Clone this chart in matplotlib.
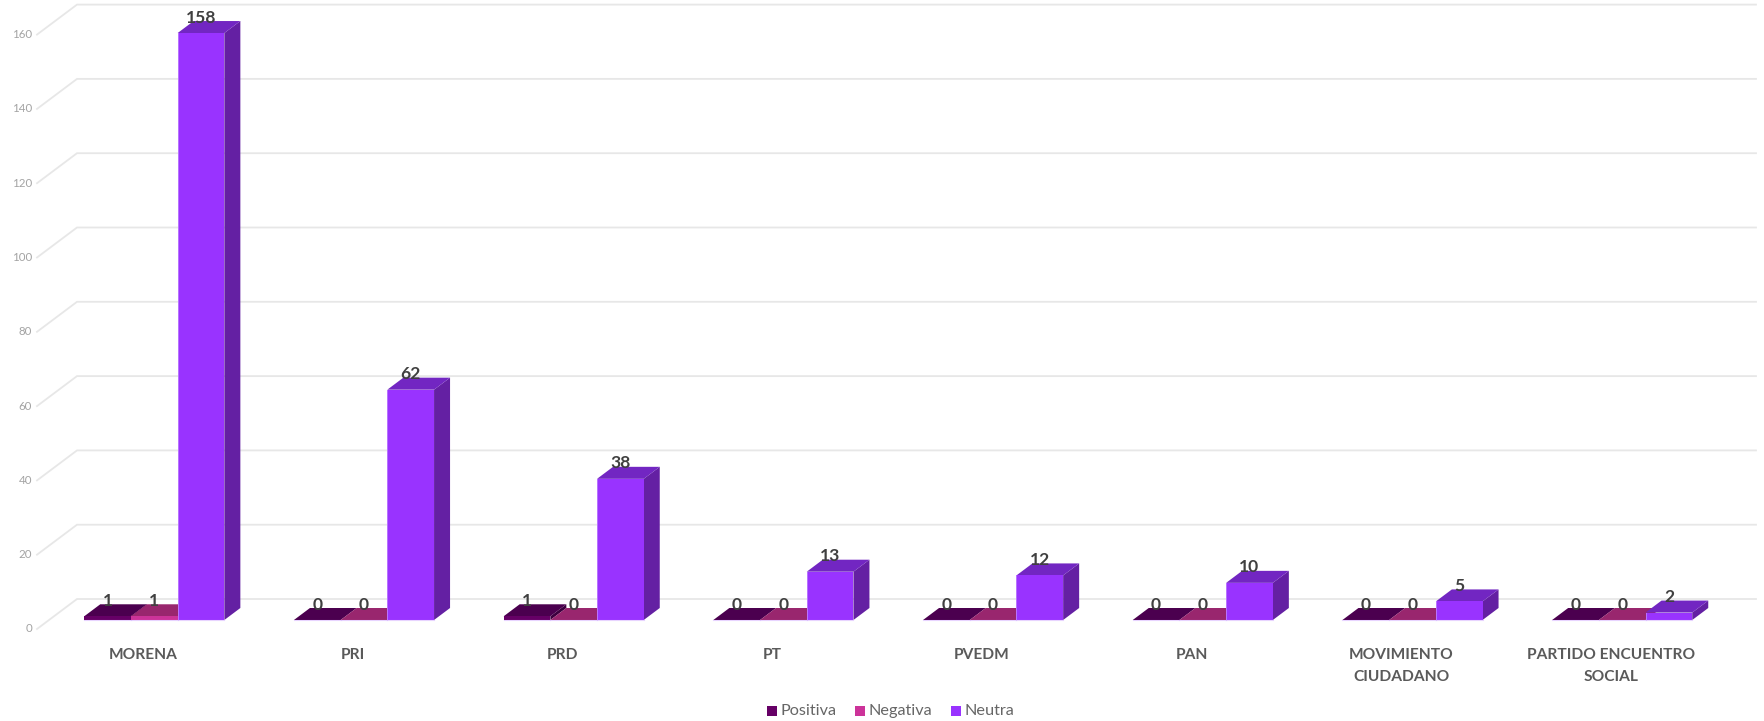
import matplotlib
matplotlib.use("Agg")
import matplotlib.pyplot as plt
from matplotlib.patches import Polygon

categories = ["MORENA", "PRI", "PRD", "PT", "PVEDM", "PAN", "MOVIMIENTO\nCIUDADANO", "PARTIDO ENCUENTRO\nSOCIAL"]
series_names = ["Positiva", "Negativa", "Neutra"]
positiva = [1, 0, 1, 0, 0, 0, 0, 0]
negativa = [1, 0, 0, 0, 0, 0, 0, 0]
neutra = [158, 62, 38, 13, 12, 10, 5, 2]
y_ticks = [0, 20, 40, 60, 80, 100, 120, 140, 160]

front_cols = ["#660066", "#cc3399", "#9933ff"]
top_cols = ["#4b004f", "#99266e", "#7226c2"]
side_cols = ["#3c003f", "#7d1f5a", "#6420a3"]
edge_col = "#d9b8ff"

W, H = 1765, 721
PX = 209.7
PY = 3.715
fig = plt.figure(figsize=(W / 100, H / 100), dpi=100, facecolor="white")
ax = fig.add_axes([0, 0, 1, 1])
ax.set_xlim(-154.3 / PX, (W - 154.3) / PX)
ax.set_ylim(-(H - 620) / PY, 620 / PY)
ax.axis("off")
plt.rcParams["font.family"] = ["Lato", "DejaVu Sans"]

dx, dy = 16 / PX, 12 / PY          # bar depth
wall_x0, wall_x1 = 37, 77          # left wall front/back
grid_end = 1756
wall_drop, wall_rise = 9 / PY, 21 / PY
def xpx(p):
    return (p - 154.3) / PX

for t in y_ticks:
    yb = t + wall_rise
    ax.plot([xpx(wall_x0), xpx(wall_x1), xpx(grid_end)], [t - wall_drop, yb, yb],
            color="#e7e7e7", lw=1.3, zorder=1, solid_joinstyle="miter")
    ax.text(xpx(wall_x0 - 5), t - wall_drop, str(t), ha="right", va="center",
            fontsize=8.3, color="#a3a3a3", zorder=2)

bw = 46.7 / PX
series = [positiva, negativa, neutra]
for i, cat in enumerate(categories):
    for s, vals in enumerate(series):
        v = vals[i]
        xc = i + (s - 1) * bw
        x0, x1 = xc - bw / 2, xc + bw / 2
        z = 3 + s
        ax.add_patch(Polygon([(x1, 0), (x1 + dx, dy), (x1 + dx, v + dy), (x1, v)],
                             closed=True, fc=side_cols[s], ec="none", zorder=z))
        ax.add_patch(Polygon([(x0, v), (x0 + dx, v + dy), (x1 + dx, v + dy), (x1, v)],
                             closed=True, fc=top_cols[s], ec="none", zorder=z))
        ax.bar(xc, v, width=bw, bottom=0, color=front_cols[s], linewidth=0, zorder=z + 0.2)
        ax.plot([x0, x1], [0, 0], color=edge_col, lw=0.8, alpha=0.6, zorder=z + 0.3)
        if v > 1:
            ax.plot([x0, x0], [0, v], color=edge_col, lw=0.7, alpha=0.5, zorder=z + 0.3)
    for s, vals in enumerate(series):
        v = vals[i]
        xc = i + (s - 1) * bw
        ax.text(xc, v + 15.5 / PY, str(v), ha="center", va="center", fontsize=12.6,
                fontweight="bold", color="#404040", zorder=10)
    ax.text(i - 11 / PX, -(648 - 620) / PY, cat, ha="center", va="top", fontsize=11.2,
            fontweight="bold", color="#5a5a5a", linespacing=1.72, zorder=10)

# legend
leg_y = -(711 - 620) / PY
leg_pos = [(772, 780.5), (860, 868.5), (955.5, 964.5)]
for (sq, tx), name, c in zip(leg_pos, series_names, front_cols):
    ax.plot([xpx(sq)], [leg_y], marker="s", ms=7.5, color=c, mew=0, zorder=10)
    ax.text(xpx(tx), leg_y, name, ha="left", va="center", fontsize=11.7, color="#666666", zorder=10)

fig.savefig("out.png", dpi=100, facecolor="white")
